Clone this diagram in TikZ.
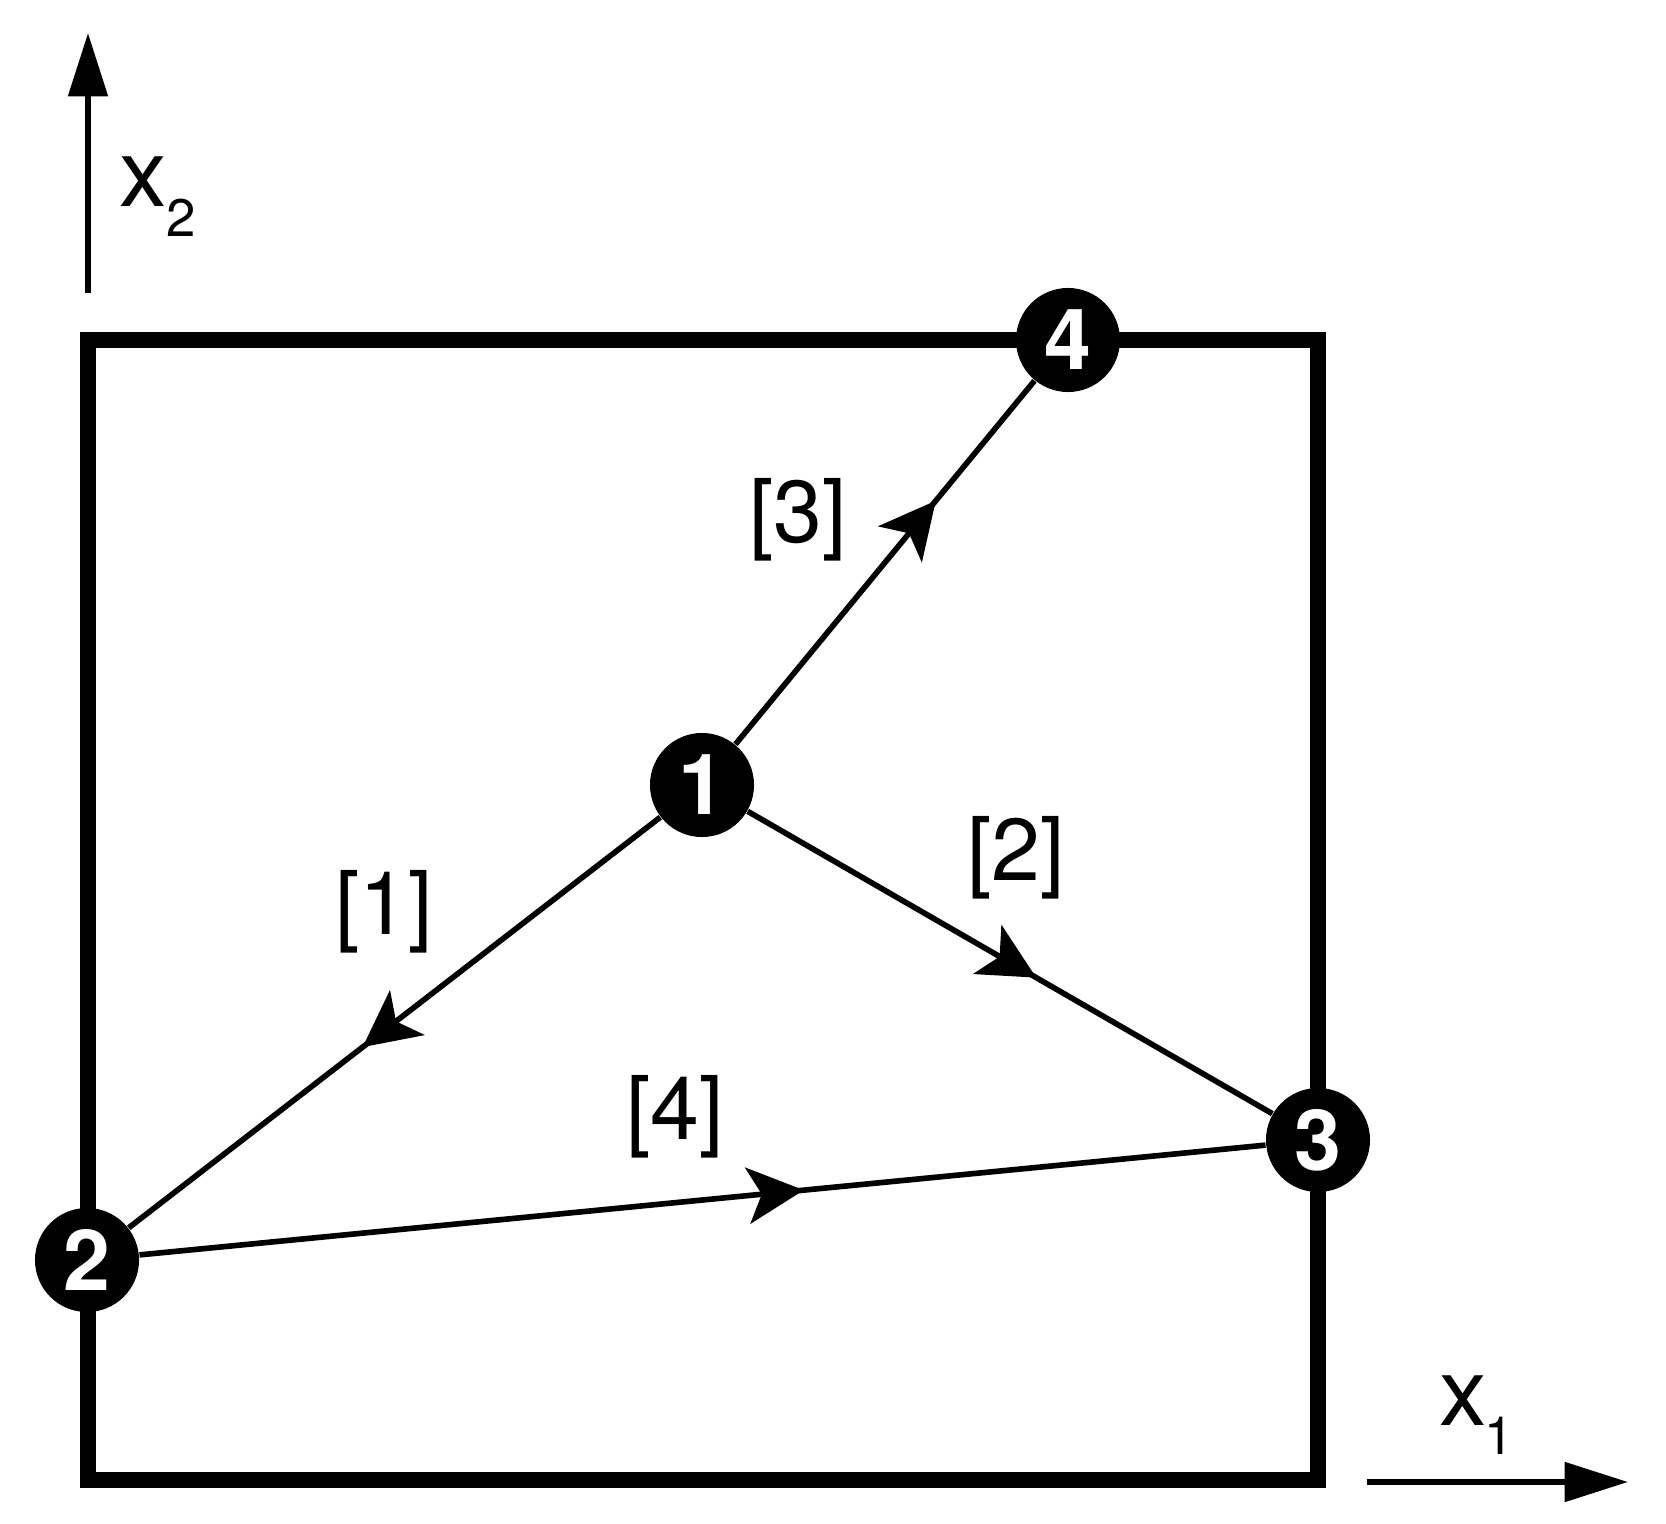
\documentclass[tikz,border=0pt]{standalone}
\usepackage{fontspec}
\setmainfont{TeX Gyre Heros}
\usetikzlibrary{arrows.meta,decorations.markings}

\begin{document}
\begin{tikzpicture}[x=0.01cm,y=-0.01cm,
    junction/.style={circle,fill=black,text=white,inner sep=0pt,minimum size=1.04cm,
                     font=\fontsize{24}{24}\selectfont\bfseries},
    flow/.style={line width=1.6pt,postaction={decorate},
                 decoration={markings,mark=at position #1 with {\arrow{Stealth[length=16pt,width=16pt,inset=4pt]}}}},
    tag/.style={font=\fontsize{25}{25}\selectfont},
    axis/.style={line width=1.7pt,-{Triangle[length=18pt,width=11pt]}},
    axislabel/.style={font=\fontsize{27}{27}\selectfont,inner sep=0pt},
    axissub/.style={font=\fontsize{15}{15}\selectfont,inner sep=0pt}]
    \useasboundingbox (0,0) rectangle (1666,1524);

    % domain boundary
    \draw[line width=4.5pt] (88,340) rectangle (1318,1480);

    \node[junction] (n1) at (702,785)  {1};
    \node[junction] (n2) at (87,1260)  {2};
    \node[junction] (n3) at (1318,1140) {3};
    \node[junction] (n4) at (1068,340) {4};

    \path (n1) edge[flow=0.56] (n2)
          (n1) edge[flow=0.55] (n3)
          (n1) edge[flow=0.67] (n4)
          (n2) edge[flow=0.59] (n3);

    \node[tag] (t1) at (384,912)  {[1]};
    \node[tag] (t2) at (1016,858) {[2]};
    \node[tag] (t3) at (798,520)  {[3]};
    \node[tag] (t4) at (675,1117) {[4]};

    % axes
    \coordinate (x1from) at (1367,1482);
    \coordinate (x1to)   at (1628,1482);
    \coordinate (x2from) at (88,293);
    \coordinate (x2to)   at (88,33);
    \draw[axis] (x1from) -- (x1to);
    \draw[axis] (x2from) -- (x2to);
    \node[axislabel] (x1lab) at (1463,1401) {x};
    \node[axissub]   (x1sub) at (1499,1436) {1};
    \node[axislabel] (x2lab) at (143,182)   {x};
    \node[axissub]   (x2sub) at (181,218)   {2};
\end{tikzpicture}
\end{document}
